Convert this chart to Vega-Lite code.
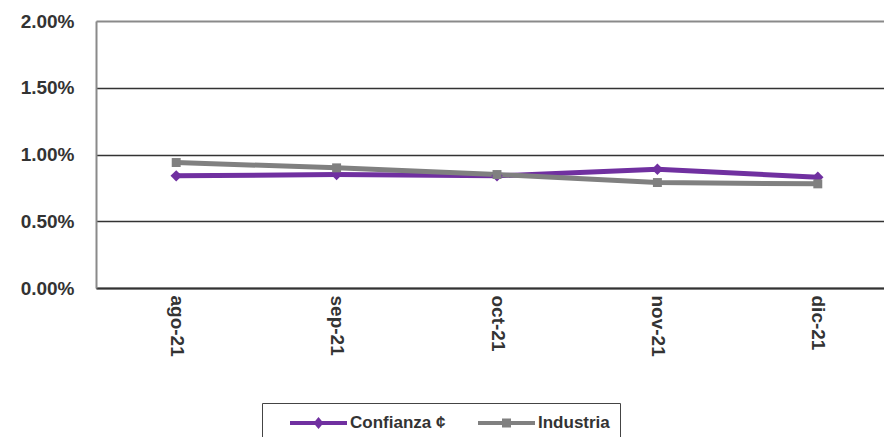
{
  "$schema": "https://vega.github.io/schema/vega-lite/v6.json",
  "width": 788,
  "height": 267,
  "autosize": {"type": "none"},
  "padding": {"left": 96, "top": 21, "right": 0, "bottom": 149},
  "background": "white",
  "data": {
    "values": [
      {"mes": "ago-21", "serie": "Confianza ¢", "marcador": "rombo", "valor": 0.0084},
      {"mes": "sep-21", "serie": "Confianza ¢", "marcador": "rombo", "valor": 0.0085},
      {"mes": "oct-21", "serie": "Confianza ¢", "marcador": "rombo", "valor": 0.0084},
      {"mes": "nov-21", "serie": "Confianza ¢", "marcador": "rombo", "valor": 0.0089},
      {"mes": "dic-21", "serie": "Confianza ¢", "marcador": "rombo", "valor": 0.0083},
      {"mes": "ago-21", "serie": "Industria", "marcador": "cuadro", "valor": 0.0094},
      {"mes": "sep-21", "serie": "Industria", "marcador": "cuadro", "valor": 0.0090},
      {"mes": "oct-21", "serie": "Industria", "marcador": "cuadro", "valor": 0.0085},
      {"mes": "nov-21", "serie": "Industria", "marcador": "cuadro", "valor": 0.0079},
      {"mes": "dic-21", "serie": "Industria", "marcador": "cuadro", "valor": 0.0078}
    ]
  },
  "encoding": {
    "x": {
      "field": "mes",
      "type": "ordinal",
      "sort": ["ago-21", "sep-21", "oct-21", "nov-21", "dic-21"],
      "scale": {"type": "point", "padding": 0.5, "range": [0, 802]},
      "axis": {
        "title": null,
        "labelAngle": 90,
        "labelFont": "Liberation Sans",
        "labelFontWeight": "bold",
        "labelFontSize": 19,
        "labelColor": "#333333",
        "labelPadding": 7,
        "ticks": false,
        "grid": false,
        "domainColor": "#333333",
        "domainWidth": 2
      }
    },
    "y": {
      "field": "valor",
      "type": "quantitative",
      "scale": {"domain": [0, 0.02], "nice": false},
      "axis": {
        "title": null,
        "values": [0, 0.005, 0.01, 0.015, 0.02],
        "format": ".2%",
        "labelFont": "Liberation Sans",
        "labelFontWeight": "bold",
        "labelFontSize": 19,
        "labelColor": "#333333",
        "labelPadding": 22,
        "ticks": false,
        "domainColor": "#8a8a8a",
        "domainWidth": 2,
        "grid": true,
        "gridColor": {"condition": {"test": "datum.value === 0.02", "value": "#8a8a8a"}, "value": "#333333"},
        "gridWidth": {"condition": {"test": "datum.value === 0.02", "value": 2}, "value": 1.3},
        "gridOpacity": 1
      }
    }
  },
  "layer": [
    {
      "mark": {"type": "line", "strokeWidth": 5},
      "encoding": {
        "color": {
          "field": "serie",
          "type": "nominal",
          "scale": {"domain": ["Confianza ¢", "Industria"], "range": ["#7030a0", "#808080"]},
          "legend": {
            "title": null,
            "orient": "none",
            "legendX": 166,
            "legendY": 382,
            "direction": "horizontal",
            "padding": 10,
            "strokeColor": "#444444",
            "fillColor": "white",
            "labelFont": "Liberation Sans",
            "labelFontWeight": "bold",
            "labelFontSize": 17,
            "labelColor": "#333333",
            "labelOffset": 58,
            "columnPadding": 14,
            "symbolSize": 400,
            "symbolStrokeWidth": 0,
            "encode": {
              "symbols": {
                "update": {
                  "shape": {"signal": "datum.value === 'Confianza ¢' ? 'M0.8,-0.2 L6.5,-0.2 L6.5,0.2 L0.8,0.2 Z M3.15,0 L3.65,-0.6 L4.15,0 L3.65,0.6 Z' : 'M0.8,-0.2 L6.5,-0.2 L6.5,0.2 L0.8,0.2 Z M3.2,-0.45 L4.1,-0.45 L4.1,0.45 L3.2,0.45 Z'"},
                  "size": {"value": 400},
                  "fill": {"scale": "color", "field": "value"},
                  "fillOpacity": {"value": 1},
                  "strokeWidth": {"value": 0}
                }
              }
            }
          }
        }
      }
    },
    {
      "mark": {"type": "point", "filled": true, "opacity": 1},
      "encoding": {
        "color": {"field": "serie", "type": "nominal", "legend": null},
        "shape": {
          "field": "marcador",
          "type": "nominal",
          "scale": {"domain": ["rombo", "cuadro"], "range": ["diamond", "square"]},
          "legend": null
        },
        "size": {
          "field": "marcador",
          "type": "nominal",
          "scale": {"domain": ["rombo", "cuadro"], "range": [130, 80]},
          "legend": null
        }
      }
    }
  ]
}
